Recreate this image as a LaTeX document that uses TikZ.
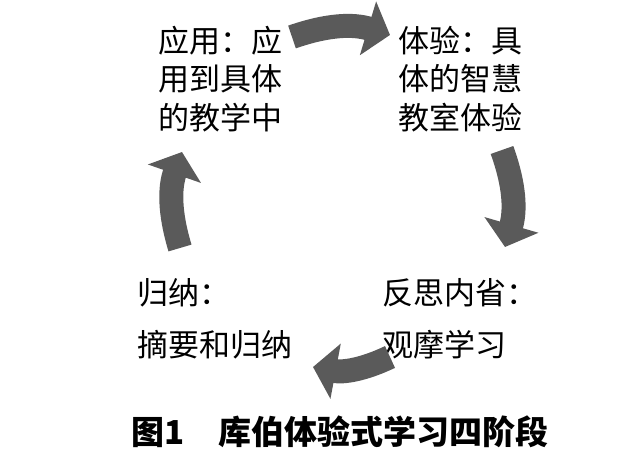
\documentclass[tikz,border=0pt]{standalone}
\usepackage{fontspec}
\usepackage{tikz}
\usetikzlibrary{arrows.meta}
\newfontfamily\cjk{Noto Sans CJK SC}
\definecolor{arrowgray}{RGB}{90,90,90}

\begin{document}
\begin{tikzpicture}[x=1pt, y=1pt,
    stage/.style={font=\cjk\fontsize{31}{38.5}\selectfont, align=left, inner sep=0pt, anchor=west},
    lowstage/.style={stage, font=\cjk\fontsize{31}{52}\selectfont},
    cyclearrow/.style={arrowgray, line width=24pt, -{Triangle[width=55pt, length=23pt]}}]
                % Page frame
                \useasboundingbox (0,0) rectangle (629,454);

                % Four stages
                \node[stage] (apply) at (158,375) {应用：应\\用到具体\\的教学中};
                \node[stage] (experience) at (398,375) {体验：具\\体的智慧\\教室体验};
                \node[lowstage] (reflect) at (382,135) {反思内省：\\观摩学习};
                \node[lowstage] (generalize) at (137,135) {归纳：\\摘要和归纳};

                % Arrow ends
                \coordinate (t1) at (292,417);
                \coordinate (t2) at (390,419);
                \coordinate (r1) at (502,304);
                \coordinate (r2) at (505,207);
                \coordinate (b1) at (390,97);
                \coordinate (b2) at (313,87);
                \coordinate (l1) at (180,206);
                \coordinate (l2) at (182,302);

                % Cycle arrows
                \foreach \a/\b in {t1/t2, r1/r2, b1/b2, l1/l2} {
                    \draw[cyclearrow] (\a) to[bend left=18] (\b);
                }

                % Caption
                \node[font=\cjk\bfseries\fontsize{33}{33}\selectfont, inner sep=0pt] (caption) at (340,22) {图1　库伯体验式学习四阶段};
            \end{tikzpicture}
\end{document}
